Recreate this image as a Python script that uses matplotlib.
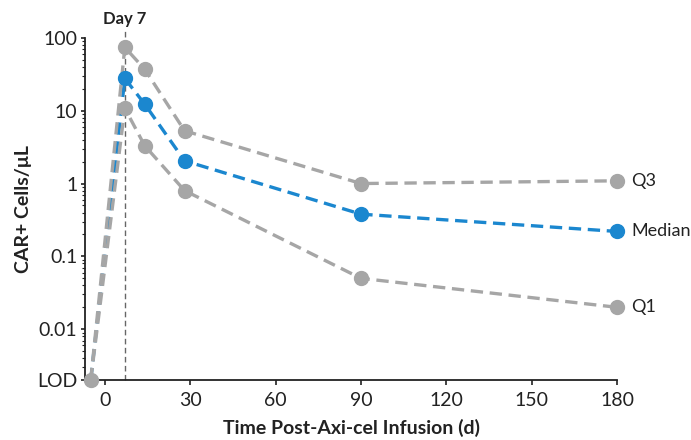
import matplotlib
matplotlib.use("Agg")
import matplotlib.pyplot as plt
from matplotlib.ticker import FixedLocator, LogLocator, NullFormatter

plt.rcParams['font.family'] = ['Lato', 'DejaVu Sans']

LOD = 0.002
days = [-5, 7, 14, 28, 90, 180]
q3 = [LOD, 74, 37, 5.3, 1.0, 1.09]
median = [LOD, 27.7, 12.3, 2.05, 0.38, 0.22]
q1 = [LOD, 10.8, 3.3, 0.80, 0.050, 0.020]
series_labels = ["Q3", "Median", "Q1"]
xticks = [0, 30, 60, 90, 120, 150, 180]
yticks = [LOD, 0.01, 0.1, 1, 10, 100]
ytick_labels = ["LOD", "0.01", "0.1", "1", "10", "100"]

gray = "#A6A6A6"
blue = "#1B87CF"
txt = "#222222"

fig = plt.figure(figsize=(6.91, 4.40), dpi=100)
ax = fig.add_axes([0.123, 0.136, 0.770, 0.778])
ax.set_yscale("log")
ax.set_xlim(-7, 180)
ax.set_ylim(LOD, 100)

dash = (0, (3.7, 2.0))
lw = 2.4
ms = 10

ax.plot(days, median, color=blue, lw=lw, linestyle=dash, zorder=1.8, clip_on=False)
for vals in (q3, q1):
    ax.plot(days, vals, color=gray, lw=lw, linestyle=dash, zorder=2, clip_on=False)
for vals, col in [(q3, gray), (q1, gray), (median, blue)]:
    ax.plot(days[1:], vals[1:], 'o', color=col, ms=ms, zorder=3, clip_on=False)
ax.plot(days[0], q3[0], 'o', color=gray, ms=ms, zorder=4, clip_on=False)

for vals, lab in zip([q3, median, q1], series_labels):
    ax.annotate(lab, (days[-1], vals[-1]), xytext=(10, 0), textcoords='offset points',
                va='center', ha='left', fontsize=13, color=txt, annotation_clip=False)

# Day 7 reference line
ax.plot([7, 7], [LOD, 123], color='#666666', lw=1.0, linestyle=(0, (4, 2.5)), zorder=1, clip_on=False)
ax.text(7, 180, "Day 7", ha='center', va='center', fontsize=12, fontweight='bold', color=txt)

for s in ['top', 'right']:
    ax.spines[s].set_visible(False)
for s in ['left', 'bottom']:
    ax.spines[s].set_linewidth(1.3)
    ax.spines[s].set_color(txt)

ax.set_xticks(xticks)
ax.set_xticklabels([str(t) for t in xticks])
ax.yaxis.set_major_locator(FixedLocator(yticks))
ax.set_yticklabels(ytick_labels)
ax.yaxis.set_minor_locator(LogLocator(base=10, subs=range(2, 10), numticks=20))
ax.yaxis.set_minor_formatter(NullFormatter())
ax.tick_params(axis='both', which='major', direction='out', width=1.2,
               labelsize=14, colors=txt)
ax.tick_params(axis='x', which='major', length=3.5, pad=5)
ax.tick_params(axis='y', which='major', length=3, pad=2.5)
ax.tick_params(axis='y', which='minor', direction='out', length=2, width=0.8, colors=txt)

ax.set_xlabel("Time Post-Axi-cel Infusion (d)", fontsize=14, fontweight='bold', color=txt, labelpad=7)
ax.set_ylabel("CAR+ Cells/μL", fontsize=14, fontweight='bold', color=txt, labelpad=4)

fig.savefig("out.png", dpi=100)
